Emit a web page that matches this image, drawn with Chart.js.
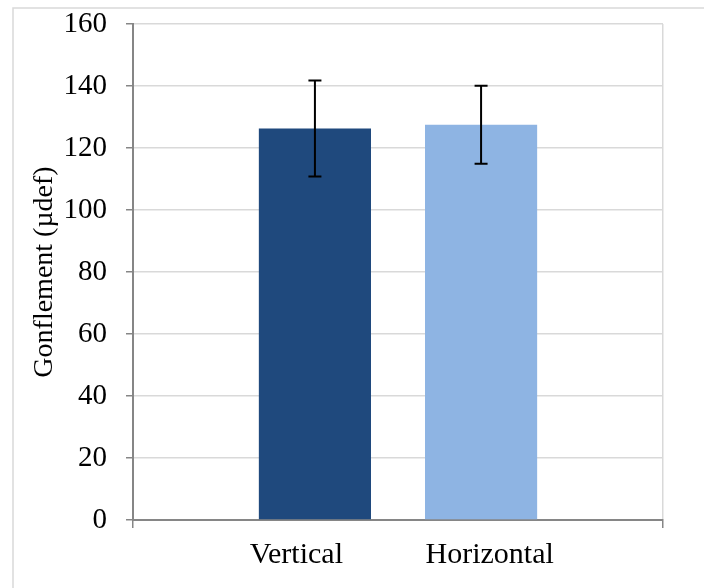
<!DOCTYPE html>
<html>
<head>
<meta charset="utf-8">
<script src="https://cdn.jsdelivr.net/npm/chart.js@4.4.0/dist/chart.umd.min.js"></script>
<style>
html,body{margin:0;padding:0;background:#fff;}
#wrap{width:704px;height:588px;position:relative;}
</style>
</head>
<body>
<div id="wrap"><canvas id="c" width="704" height="588"></canvas></div>
<script>
const categories = ['Vertical', 'Horizontal'];
const means = [126.3, 127.5];
const errors = [15.5, 12.6];
const colors = ['#1F497D', '#8EB4E3'];
const yTicks = [0, 20, 40, 60, 80, 100, 120, 140, 160];
const yTitle = 'Gonflement (µdef)';

const FONT = 'Liberation Serif, "Times New Roman", serif';

const datasets = categories.map((name, i) => ({
  label: name,
  data: [means[i]],
  backgroundColor: colors[i],
  borderWidth: 0,
  categoryPercentage: 0.627,
  barPercentage: 0.675,
  errorBar: errors[i]
}));

const frame = {
  id: 'frame',
  beforeDraw(chart) {
    const ctx = chart.ctx;
    ctx.save();
    ctx.fillStyle = '#fff';
    ctx.fillRect(0, 0, chart.width, chart.height);
    ctx.strokeStyle = '#d9d9d9';
    ctx.lineWidth = 1.5;
    ctx.strokeRect(13, 8, chart.width + 20, chart.height + 20);
    ctx.restore();
  }
};

const errorBars = {
  id: 'errorBars',
  afterDatasetsDraw(chart) {
    const ctx = chart.ctx;
    const y = chart.scales.y;
    ctx.save();
    ctx.strokeStyle = '#000';
    ctx.lineWidth = 2;
    chart.data.datasets.forEach((ds, i) => {
      const meta = chart.getDatasetMeta(i);
      meta.data.forEach((el, j) => {
        const v = ds.data[j], e = ds.errorBar;
        const x = el.x;
        const yt = y.getPixelForValue(v + e);
        const yb = y.getPixelForValue(v - e);
        ctx.beginPath();
        ctx.moveTo(x, yt); ctx.lineTo(x, yb);
        ctx.moveTo(x - 6.5, yt); ctx.lineTo(x + 6.5, yt);
        ctx.moveTo(x - 6.5, yb); ctx.lineTo(x + 6.5, yb);
        ctx.stroke();
      });
    });
    ctx.restore();
  }
};

new Chart(document.getElementById('c'), {
  type: 'bar',
  data: {
    labels: [' ' + categories.join('           ')],
    datasets: datasets
  },
  options: {
    responsive: false,
    animation: false,
    devicePixelRatio: 1,
    layout: { padding: { left: 28, right: 41, top: 24, bottom: 0 } },
    plugins: { legend: { display: false }, tooltip: { enabled: false } },
    scales: {
      x: {
        offset: true,
        grid: { display: true, offset: true, color: '#d9d9d9', tickColor: '#868686', tickLength: 8, lineWidth: 1.5, drawOnChartArea: true },
        border: { color: '#868686', width: 2 },
        ticks: { color: '#000', font: { family: FONT, size: 30 }, padding: 9, maxRotation: 0, autoSkip: false },
        afterFit(s) { s.height = 68; s.paddingLeft = 0; s.paddingRight = 0; }
      },
      y: {
        min: 0, max: 160,
        afterBuildTicks(s) { s.ticks = yTicks.map(v => ({ value: v })); },
        grid: { color: '#d9d9d9', tickColor: '#868686', tickLength: 7, lineWidth: 1.5 },
        border: { color: '#868686', width: 2 },
        ticks: { color: '#000', font: { family: FONT, size: 29 }, padding: 19 },
        title: { display: true, text: yTitle, color: '#000', font: { family: FONT, size: 28 }, padding: 0 },
        afterFit(s) { s.width = 105; s.paddingTop = 0; s.paddingBottom = 0; }
      }
    }
  },
  plugins: [frame, errorBars]
});
</script>
</body>
</html>
